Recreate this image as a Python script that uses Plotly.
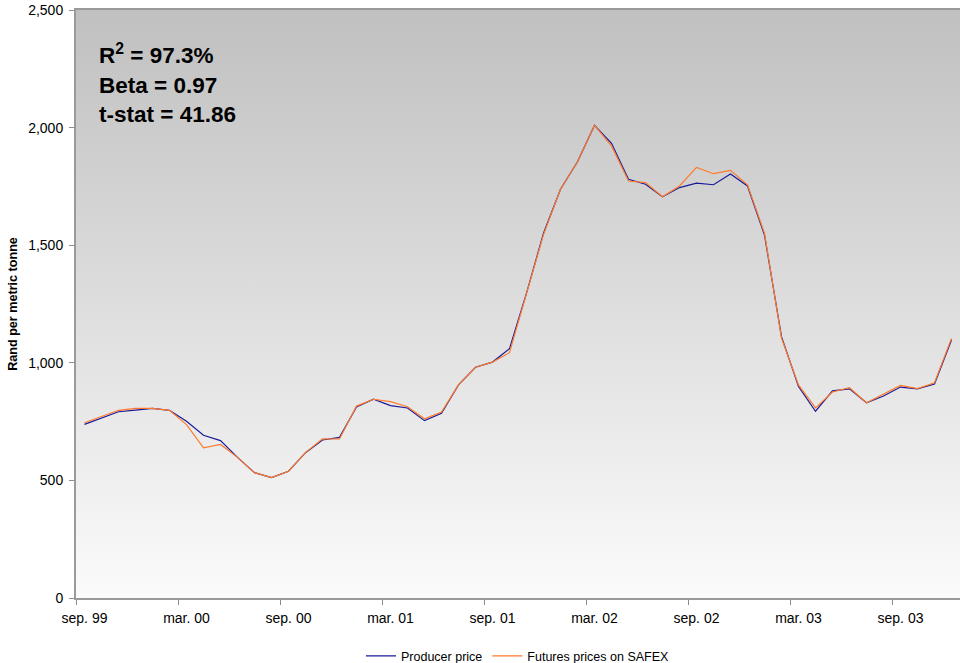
import base64
import plotly.graph_objects as go

months = [
    "sep. 99", "okt. 99", "nov. 99", "dec. 99",
    "jan. 00", "feb. 00", "mar. 00", "apr. 00", "maj. 00", "jun. 00", "jul. 00", "aug. 00",
    "sep. 00", "okt. 00", "nov. 00", "dec. 00",
    "jan. 01", "feb. 01", "mar. 01", "apr. 01", "maj. 01", "jun. 01", "jul. 01", "aug. 01",
    "sep. 01", "okt. 01", "nov. 01", "dec. 01",
    "jan. 02", "feb. 02", "mar. 02", "apr. 02", "maj. 02", "jun. 02", "jul. 02", "aug. 02",
    "sep. 02", "okt. 02", "nov. 02", "dec. 02",
    "jan. 03", "feb. 03", "mar. 03", "apr. 03", "maj. 03", "jun. 03", "jul. 03", "aug. 03",
    "sep. 03", "okt. 03", "nov. 03", "dec. 03",
]

producer_price = [
    738, 764, 792, 799, 806, 798, 751, 692, 669, 598, 533, 512,
    539, 618, 672, 683, 812, 845, 818, 808, 754, 785, 906, 981,
    1003, 1060, 1296, 1551, 1738, 1855, 2010, 1933, 1780, 1759, 1706, 1745,
    1764, 1757, 1803, 1752, 1543, 1111, 899, 794, 881, 889, 830, 859,
    897, 889, 910, 1097,
]

futures_price = [
    745, 771, 798, 806, 806, 798, 737, 638, 653, 598, 533, 512,
    539, 618, 677, 676, 816, 845, 835, 813, 762, 791, 906, 981,
    1003, 1043, 1290, 1545, 1738, 1855, 2010, 1922, 1773, 1766, 1706, 1752,
    1831, 1804, 1818, 1757, 1551, 1105, 906, 808, 876, 894, 830, 867,
    904, 890, 915, 1104,
]

y_ticks = [0, 500, 1000, 1500, 2000, 2500]
stats_text = "R<sup>2</sup> = 97.3%<br>Beta = 0.97<br>t-stat = 41.86"

x_idx = list(range(len(months)))
label_idx = x_idx[::6]
label_text = [months[i] for i in label_idx]

FONT = "Liberation Sans, Arial, sans-serif"

svg = (
    '<svg xmlns="http://www.w3.org/2000/svg" width="100" height="100" preserveAspectRatio="none">'
    '<defs><linearGradient id="g" x1="0" y1="0" x2="0" y2="1">'
    '<stop offset="0" stop-color="#c0c0c0"/><stop offset="1" stop-color="#fbfbfb"/>'
    '</linearGradient></defs><rect width="100" height="100" fill="url(#g)"/></svg>'
)
bg_src = "data:image/svg+xml;base64," + base64.b64encode(svg.encode()).decode()

fig = go.Figure()
fig.add_trace(go.Scatter(
    x=x_idx, y=producer_price, mode="lines", name="Producer price",
    line=dict(color="#1a1a99", width=1.2),
))
fig.add_trace(go.Scatter(
    x=x_idx, y=futures_price, mode="lines", name="Futures prices on SAFEX",
    line=dict(color="#ff7a2a", width=1.2),
))

fig.add_layout_image(dict(
    source=bg_src, xref="paper", yref="paper", x=0, y=1, sizex=1, sizey=1,
    xanchor="left", yanchor="top", sizing="stretch", layer="below",
))

fig.add_annotation(
    text=stats_text, xref="paper", yref="paper", x=0.024, y=0.952,
    xanchor="left", yanchor="top", align="left", showarrow=False,
    font=dict(family=FONT, size=22.5, color="#000000", weight="bold"),
)

fig.update_layout(
    width=960, height=663,
    margin=dict(l=76, r=0, t=10, b=65, autoexpand=False),
    paper_bgcolor="#ffffff",
    plot_bgcolor="rgba(0,0,0,0)",
    font=dict(family=FONT, color="#000000"),
    showlegend=True,
    legend=dict(
        orientation="h", x=0.5, xanchor="center", y=-0.099, yanchor="middle",
        font=dict(family=FONT, size=12.5), bgcolor="rgba(0,0,0,0)",
        itemwidth=30,
    ),
    xaxis=dict(
        range=[-0.5, len(months) - 0.5],
        tickmode="array", tickvals=label_idx, ticktext=label_text,
        ticks="outside", ticklen=6, tickcolor="rgba(0,0,0,0)",
        tickfont=dict(family=FONT, size=14),
        minor=dict(tick0=-0.5, dtick=6, ticks="outside", ticklen=5,
                   tickcolor="#8c8c8c", tickwidth=1, showgrid=False),
        showgrid=False, zeroline=False,
        showline=True, linecolor="#9a9a9a", linewidth=2, mirror=True,
        automargin=False,
    ),
    yaxis=dict(
        range=[0, 2500],
        tickmode="array", tickvals=y_ticks, tickformat=",",
        ticks="outside", ticklen=5, tickcolor="#8c8c8c",
        ticklabelstandoff=3,
        tickfont=dict(family=FONT, size=14),
        showgrid=False, zeroline=False,
        showline=True, linecolor="#9a9a9a", linewidth=2,
        automargin=False,
        title=dict(text="Rand per metric tonne", standoff=8,
                   font=dict(family=FONT, size=12.6, weight="bold")),
    ),
)

fig.write_html(
    "out.html",
    config={"displayModeBar": False},
    post_script="document.body.style.margin='0';document.body.style.overflow='hidden';",
)
